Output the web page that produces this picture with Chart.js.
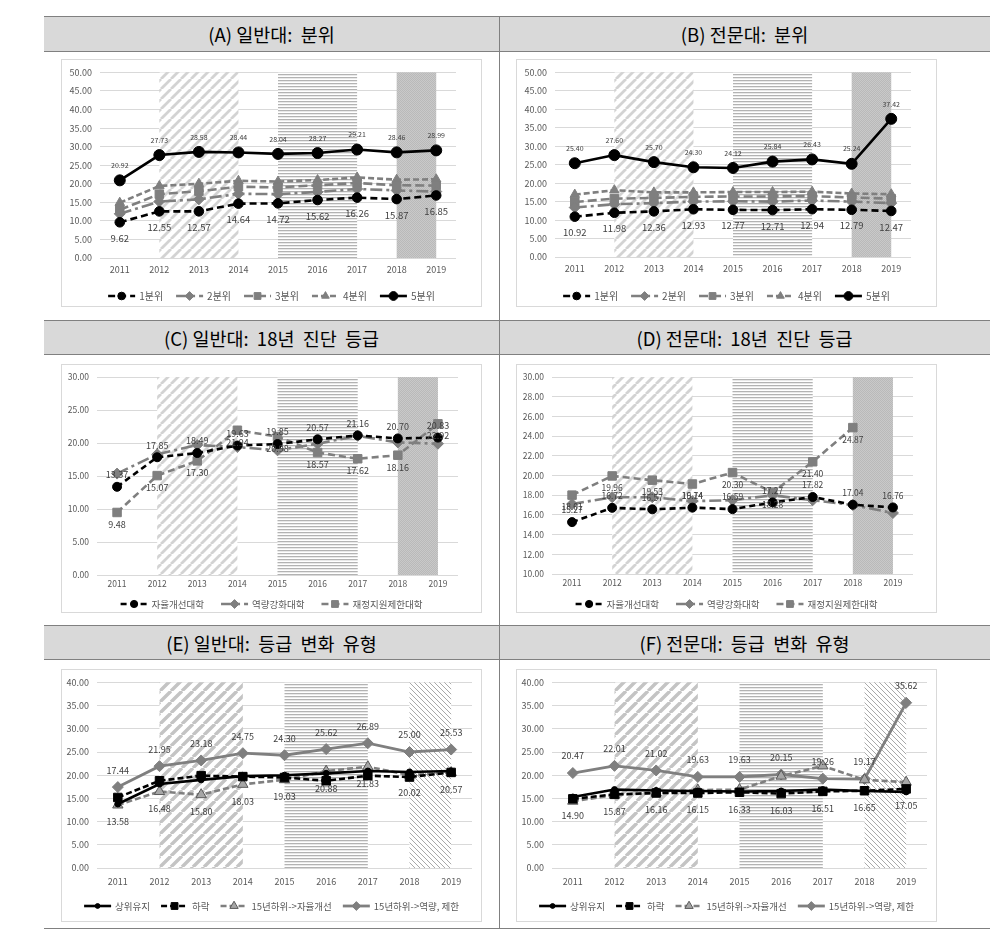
<!DOCTYPE html>
<html><head><meta charset="utf-8">
<script src="https://cdn.jsdelivr.net/npm/chart.js@4.4.0/dist/chart.umd.min.js"></script>
<style>
body{margin:0;background:#fff;width:996px;height:944px;position:relative;overflow:hidden;font-family:'Noto Sans CJK KR',sans-serif;}
.hdr{position:absolute;background:#d9d9d9;border-top:1px solid #808080;border-bottom:1px solid #808080;display:flex;align-items:center;justify-content:center;font-size:18.5px;color:#000;box-sizing:border-box;white-space:pre;}
.ln{position:absolute;background:#808080;}
.box{position:absolute;border:1px solid #d9d9d9;box-sizing:border-box;background:#fff;}
.box canvas{position:absolute;left:-1px;top:-1px;}
</style></head><body>
<div class="hdr" style="left:44px;top:16px;width:455px;height:36px;">(A) 일반대:  분위</div>
<div class="hdr" style="left:499px;top:16px;width:491px;height:36px;">(B) 전문대:  분위</div>
<div class="hdr" style="left:44px;top:320px;width:455px;height:35px;">(C) 일반대:  18년  진단  등급</div>
<div class="hdr" style="left:499px;top:320px;width:491px;height:35px;">(D) 전문대:  18년  진단  등급</div>
<div class="hdr" style="left:44px;top:625px;width:455px;height:35px;">(E) 일반대:  등급  변화  유형</div>
<div class="hdr" style="left:499px;top:625px;width:491px;height:35px;">(F) 전문대:  등급  변화  유형</div>
<div class="ln" style="left:44px;top:928px;width:946px;height:1px;"></div>
<div class="ln" style="left:499px;top:16px;width:1px;height:913px;"></div>

<div class="box" style="left:61px;top:59px;width:421px;height:248px;"><canvas id="cA" width="421" height="248"></canvas></div>
<div class="box" style="left:516px;top:59px;width:421px;height:248px;"><canvas id="cB" width="421" height="248"></canvas></div>
<div class="box" style="left:61px;top:364px;width:421px;height:249px;"><canvas id="cC" width="421" height="249"></canvas></div>
<div class="box" style="left:516px;top:364px;width:421px;height:249px;"><canvas id="cD" width="421" height="249"></canvas></div>
<div class="box" style="left:61px;top:669px;width:421px;height:253px;"><canvas id="cE" width="421" height="253"></canvas></div>
<div class="box" style="left:516px;top:669px;width:421px;height:253px;"><canvas id="cF" width="421" height="253"></canvas></div>

<script>
// ---------- DATA ----------
const years = ['2011','2012','2013','2014','2015','2016','2017','2018','2019'];

// (A) 일반대: 분위
const a_q1 = [9.62, 12.55, 12.57, 14.64, 14.72, 15.62, 16.26, 15.87, 16.85];
const a_q2 = [11.9, 15.2, 15.8, 17.3, 17.2, 17.8, 18.6, 18.2, 17.9];
const a_q3 = [13.0, 17.2, 18.0, 19.2, 19.0, 19.6, 20.2, 19.6, 19.5];
const a_q4 = [14.9, 19.4, 20.0, 20.8, 20.6, 21.0, 21.7, 21.1, 21.2];
const a_q5 = [20.92, 27.73, 28.58, 28.44, 28.04, 28.27, 29.21, 28.46, 28.99];

// (B) 전문대: 분위
const b_q1 = [10.92, 11.98, 12.36, 12.93, 12.77, 12.71, 12.94, 12.79, 12.47];
const b_q2 = [13.4, 14.3, 14.6, 15.0, 15.1, 15.0, 15.3, 15.0, 14.6];
const b_q3 = [14.9, 15.8, 16.0, 16.3, 16.4, 16.4, 16.5, 16.1, 15.8];
const b_q4 = [16.9, 18.1, 17.5, 17.5, 17.6, 17.6, 17.7, 17.2, 17.0];
const b_q5 = [25.40, 27.60, 25.70, 24.30, 24.12, 25.84, 26.43, 25.24, 37.42];

// (C) 일반대: 18년 진단 등급
const c_auto = [13.37, 17.85, 18.49, 19.63, 19.85, 20.57, 21.16, 20.70, 20.83];
const c_cap  = [15.37, 18.3, 19.7, 19.4, 18.9, 19.9, 21.1, 20.1, 19.9];
const c_lim  = [9.48, 15.07, 17.30, 21.94, 20.98, 18.57, 17.62, 18.16, 22.92];

// (D) 전문대: 18년 진단 등급
const d_auto = [15.27, 16.72, 16.57, 16.74, 16.59, 17.27, 17.82, 17.04, 16.76];
const d_cap  = [17.1, 17.8, 17.8, 17.4, 17.5, 18.0, 17.5, 17.0, 16.2];
const d_lim  = [18.01, 19.96, 19.53, 19.14, 20.30, 18.28, 21.40, 24.87, null];

// (E) 일반대: 등급 변화 유형
const e_top  = [13.8, 18.1, 19.0, 19.8, 20.0, 20.4, 20.9, 20.7, 20.9];
const e_down = [15.2, 18.8, 19.9, 19.7, 19.5, 18.8, 19.9, 19.6, 20.6];
const e_auto = [13.58, 16.48, 15.80, 18.03, 19.03, 20.88, 21.83, 20.02, 20.57];
const e_cap  = [17.44, 21.95, 23.18, 24.75, 24.30, 25.62, 26.89, 25.00, 25.53];

// (F) 전문대: 등급 변화 유형
const f_top  = [15.3, 16.9, 16.7, 16.6, 16.5, 16.6, 16.9, 16.6, 16.4];
const f_down = [14.90, 15.87, 16.16, 16.15, 16.33, 16.03, 16.51, 16.65, 17.05];
const f_auto = [14.4, 15.7, 16.2, 16.8, 16.9, 19.8, 22.0, 19.0, 18.5];
const f_cap  = [20.47, 22.01, 21.02, 19.63, 19.63, 20.15, 19.26, 19.17, 35.62];

// shaded year ranges (category index from, to, pattern)
const bandsQ = [[1, 3, 'diag'], [4, 6, 'horiz'], [7, 8, 'dots']];
const bandsT = [[1, 3, 'diag'], [4, 6, 'horiz'], [7, 8, 'dots']];
const bandsG = [[1, 3, 'diagE'], [4, 6, 'horiz'], [7, 8, 'back']];

// ---------- STYLE / HELPERS ----------
const FONT = "'Noto Sans CJK KR', sans-serif";
Chart.defaults.font.family = FONT;
const BLACK = '#000000', GREY = '#7f7f7f';

function tile(w, h, draw) { const c = document.createElement('canvas'); c.width = w; c.height = h; draw(c.getContext('2d'), w, h); return c; }
const tiles = {
  diag: tile(10, 10, (x, w, h) => { x.fillStyle = '#fff'; x.fillRect(0, 0, w, h); x.strokeStyle = '#d3d3d3'; x.lineWidth = 2.8; x.beginPath(); for (let k = -1; k <= 1; k++) { x.moveTo(k * w, h); x.lineTo(k * w + w, 0); } x.stroke(); }),
  diagE: tile(11, 11, (x, w, h) => { x.fillStyle = '#fff'; x.fillRect(0, 0, w, h); x.strokeStyle = '#c4c4c4'; x.lineWidth = 3.4; x.beginPath(); for (let k = -1; k <= 1; k++) { x.moveTo(k * w, h); x.lineTo(k * w + w, 0); } x.stroke(); }),
  horiz: tile(1, 3, (x) => { x.fillStyle = '#b3b3b3'; x.fillRect(0, 0, 1, 1); x.fillStyle = '#e9e9e9'; x.fillRect(0, 1, 1, 1); x.fillStyle = '#ffffff'; x.fillRect(0, 2, 1, 1); }),
  dots: tile(2, 2, (x) => { x.fillStyle = '#c9c9c9'; x.fillRect(0, 0, 2, 2); x.fillStyle = '#b9b9b9'; x.fillRect(0, 0, 1, 1); x.fillRect(1, 1, 1, 1); }),
  back: tile(5, 5, (x, w, h) => { x.fillStyle = '#fff'; x.fillRect(0, 0, w, h); x.strokeStyle = '#a9a9a9'; x.lineWidth = 1; x.beginPath(); for (let k = -1; k <= 1; k++) { x.moveTo(k * w, 0); x.lineTo(k * w + w, h); } x.stroke(); })
};

function marker(ctx, style, x, y, r, fill, stroke, bw) {
  ctx.save(); ctx.fillStyle = fill; ctx.strokeStyle = stroke; ctx.lineWidth = bw; ctx.setLineDash([]);
  ctx.beginPath();
  if (style === 'circle') ctx.arc(x, y, r, 0, Math.PI * 2);
  else if (style === 'rect') { const s = r * Math.SQRT1_2; ctx.rect(x - s, y - s, 2 * s, 2 * s); }
  else if (style === 'rectRot') { ctx.moveTo(x, y - r); ctx.lineTo(x + r, y); ctx.lineTo(x, y + r); ctx.lineTo(x - r, y); ctx.closePath(); }
  else if (style === 'triangle') { ctx.moveTo(x, y - r); ctx.lineTo(x + r * 0.866, y + r * 0.5); ctx.lineTo(x - r * 0.866, y + r * 0.5); ctx.closePath(); }
  ctx.fill(); if (bw > 0) ctx.stroke(); ctx.restore();
}

const bandPlugin = {
  id: 'bands',
  beforeDatasetsDraw(chart, args, opts) {
    const { ctx, chartArea } = chart; const xs = chart.scales.x;
    (opts.list || []).forEach(b => {
      const x0 = xs.getPixelForValue(b[0]), x1 = xs.getPixelForValue(b[1]);
      ctx.save(); ctx.fillStyle = ctx.createPattern(tiles[b[2]], 'repeat');
      ctx.fillRect(x0, chartArea.top, x1 - x0, chartArea.bottom - chartArea.top); ctx.restore();
    });
  }
};

const labelPlugin = {
  id: 'ptlabels',
  afterDatasetsDraw(chart) {
    const ctx = chart.ctx;
    chart.data.datasets.forEach((ds, i) => {
      if (!ds.labelPos) return;
      const meta = chart.getDatasetMeta(i);
      ctx.save(); ctx.font = ds.labelFont + ' ' + FONT; ctx.fillStyle = '#404040'; ctx.textAlign = 'center'; ctx.textBaseline = 'middle';
      meta.data.forEach((pt, j) => {
        const v = ds.data[j]; if (v == null) return;
        ctx.fillText(v.toFixed(2), pt.x, pt.y + (ds.labelPos === 'top' ? -ds.labelOff : ds.labelOff));
      });
      ctx.restore();
    });
  }
};

const legendPlugin = {
  id: 'xlegend',
  afterDraw(chart, args, opts) {
    const ctx = chart.ctx, dss = chart.data.datasets;
    ctx.save(); ctx.font = opts.font + ' ' + FONT;
    const sw = 27, g1 = 4, g2 = opts.gap;
    const widths = dss.map(d => sw + g1 + ctx.measureText(d.label).width);
    const total = widths.reduce((a, b) => a + b, 0) + g2 * (dss.length - 1);
    let x = chart.width / 2 - total / 2 + (opts.dx || 0); const y = opts.y;
    dss.forEach((d, i) => {
      ctx.save(); ctx.strokeStyle = d.borderColor; ctx.lineWidth = d.borderWidth; ctx.setLineDash(d.borderDash || []);
      ctx.beginPath(); ctx.moveTo(x, y); ctx.lineTo(x + sw, y); ctx.stroke(); ctx.restore();
      marker(ctx, d.pointStyle, x + sw / 2, y, d.pointRadius * 0.8, d.pointBackgroundColor, d.pointBorderColor, d.pointBorderWidth);
      ctx.fillStyle = '#595959'; ctx.textAlign = 'left'; ctx.textBaseline = 'middle';
      ctx.fillText(d.label, x + sw + g1, y + 0.5);
      x += widths[i] + g2;
    });
    ctx.restore();
  }
};

function ds(label, data, o) {
  return {
    label, data, borderColor: o.color, backgroundColor: o.fill || o.color,
    pointBackgroundColor: o.fill || o.color, pointBorderColor: o.pbc || o.color, pointBorderWidth: o.pbw || 1,
    borderWidth: o.w || 2.6, borderDash: o.dash || [], pointStyle: o.ps || 'circle',
    pointRadius: o.r || 4.5, pointHoverRadius: o.r || 4.5, tension: 0, spanGaps: false,
    labelPos: o.lp, labelFont: o.lf, labelOff: o.lo
  };
}

function makeChart(id, datasets, c) {
  new Chart(document.getElementById(id), {
    type: 'line',
    data: { labels: years, datasets },
    options: {
      responsive: false, animation: false, devicePixelRatio: 1,
      layout: { padding: { left: 0, top: c.top, right: c.right, bottom: c.bottom } },
      plugins: { legend: { display: false }, tooltip: { enabled: false },
        bands: { list: c.bands }, xlegend: { y: c.legY, gap: c.gap, font: c.legFont } },
      scales: {
        x: { type: 'category', offset: true, grid: { display: false, drawTicks: false }, border: { display: false },
          ticks: { color: '#595959', font: { size: c.xFont || 9 }, padding: c.xPad, maxRotation: 0, autoSkip: false },
          afterFit: s => { s.height = c.xh; } },
        y: { min: c.min, max: c.max, grid: { color: '#d9d9d9', drawTicks: false, lineWidth: 1 }, border: { display: false },
          ticks: { stepSize: c.step, color: '#595959', font: { size: c.yFont || 9 }, padding: 8, callback: v => Number(v).toFixed(2) },
          afterFit: s => { s.width = c.yw; } }
      }
    },
    plugins: [bandPlugin, labelPlugin, legendPlugin]
  });
}

// (A)
makeChart('cA', [
  ds('1분위', a_q1, { color: BLACK, dash: [7, 4], r: 4.8, lp: 'bottom', lf: '9.5px', lo: 16 }),
  ds('2분위', a_q2, { color: GREY, dash: [12, 4, 3, 4], ps: 'rectRot', r: 5.5 }),
  ds('3분위', a_q3, { color: GREY, dash: [9, 4], ps: 'rect', r: 6 }),
  ds('4분위', a_q4, { color: GREY, dash: [6, 3], ps: 'triangle', r: 5.5 }),
  ds('5분위', a_q5, { color: BLACK, r: 5.5, lp: 'top', lf: '7px', lo: 15 })
], { top: 13, right: 26, bottom: 27, xh: 22, xPad: 6, yw: 39, min: 0, max: 50, step: 5, bands: bandsQ, legY: 237, gap: 13, legFont: '10px' });

// (B)
makeChart('cB', [
  ds('1분위', b_q1, { color: BLACK, dash: [7, 4], r: 4.8, lp: 'bottom', lf: '9.5px', lo: 16 }),
  ds('2분위', b_q2, { color: GREY, dash: [12, 4, 3, 4], ps: 'rectRot', r: 5.5 }),
  ds('3분위', b_q3, { color: GREY, dash: [9, 4], ps: 'rect', r: 6 }),
  ds('4분위', b_q4, { color: GREY, dash: [6, 3], ps: 'triangle', r: 5.5 }),
  ds('5분위', b_q5, { color: BLACK, r: 5.5, lp: 'top', lf: '7px', lo: 15 })
], { top: 13, right: 26, bottom: 28, xh: 22, xPad: 6, yw: 39, min: 0, max: 50, step: 5, bands: bandsQ, legY: 237, gap: 13, legFont: '10px' });

// (C)
makeChart('cC', [
  ds('자율개선대학', c_auto, { color: BLACK, dash: [6, 4], r: 4.5, lp: 'top', lf: '9px', lo: 12 }),
  ds('역량강화대학', c_cap, { color: GREY, dash: [12, 4, 3, 4], ps: 'rectRot', r: 5.5 }),
  ds('재정지원제한대학', c_lim, { color: GREY, dash: [7, 4], ps: 'rect', r: 6, lp: 'bottom', lf: '9px', lo: 12 })
], { top: 10, right: 24, bottom: 18, xh: 20, xPad: 4, yw: 36, yFont: 8.5, xFont: 8.5, min: 0, max: 30, step: 5, bands: bandsT, legY: 240, gap: 17, legFont: '9.5px' });

// (D)
makeChart('cD', [
  ds('자율개선대학', d_auto, { color: BLACK, dash: [6, 4], r: 4.5, lp: 'top', lf: '8.5px', lo: 12 }),
  ds('역량강화대학', d_cap, { color: GREY, dash: [12, 4, 3, 4], ps: 'rectRot', r: 5.5 }),
  ds('재정지원제한대학', d_lim, { color: GREY, dash: [7, 4], ps: 'rect', r: 6, lp: 'bottom', lf: '8.5px', lo: 12 })
], { top: 10, right: 24, bottom: 19, xh: 20, xPad: 4, yw: 36, yFont: 8.5, xFont: 8.5, min: 10, max: 30, step: 2, bands: bandsT, legY: 240, gap: 17, legFont: '9.5px' });

// (E)
makeChart('cE', [
  ds('상위유지', e_top, { color: BLACK, r: 3 }),
  ds('하락', e_down, { color: BLACK, dash: [6, 3], ps: 'rect', r: 6 }),
  ds('15년하위->자율개선', e_auto, { color: GREY, fill: '#a6a6a6', pbc: '#595959', dash: [6, 3], ps: 'triangle', r: 6, lp: 'bottom', lf: '9px', lo: 17 }),
  ds('15년하위->역량, 제한', e_cap, { color: GREY, w: 2.8, ps: 'rectRot', r: 5.5, lp: 'top', lf: '9px', lo: 17 })
], { top: 13, right: 10, bottom: 32, xh: 22, xPad: 8, yw: 36, min: 0, max: 40, step: 5, bands: bandsG, legY: 237, gap: 11, legFont: '9.5px' });

// (F)
makeChart('cF', [
  ds('상위유지', f_top, { color: BLACK, r: 3 }),
  ds('하락', f_down, { color: BLACK, dash: [6, 3], ps: 'rect', r: 6, lp: 'bottom', lf: '9px', lo: 17 }),
  ds('15년하위->자율개선', f_auto, { color: GREY, fill: '#a6a6a6', pbc: '#595959', dash: [6, 3], ps: 'triangle', r: 6 }),
  ds('15년하위->역량, 제한', f_cap, { color: GREY, w: 2.8, ps: 'rectRot', r: 5.5, lp: 'top', lf: '9px', lo: 17 })
], { top: 13, right: 10, bottom: 32, xh: 22, xPad: 8, yw: 36, min: 0, max: 40, step: 5, bands: bandsG, legY: 237, gap: 11, legFont: '9.5px' });
</script>
</body></html>
